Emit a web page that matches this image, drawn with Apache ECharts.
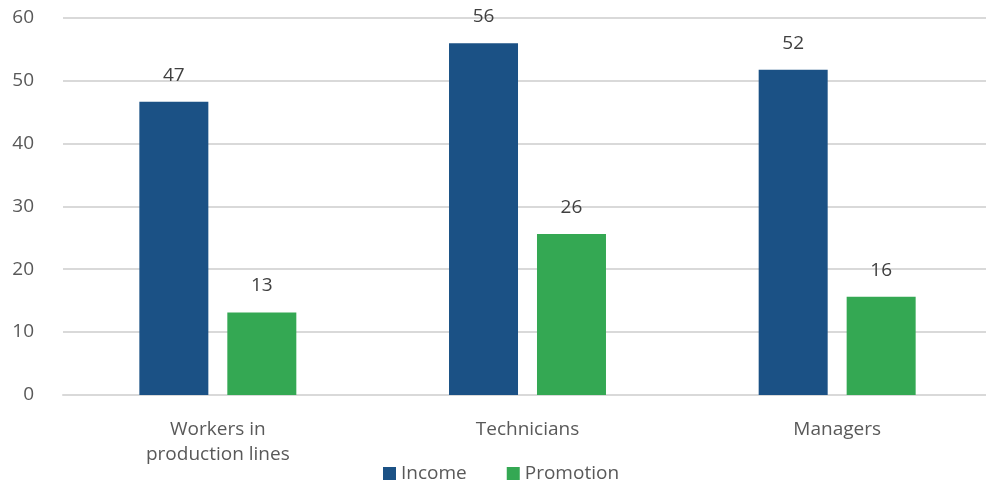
<!DOCTYPE html>
<html>
<head>
<meta charset="utf-8">
<script src="https://cdn.jsdelivr.net/npm/echarts@6/dist/echarts.min.js"></script>
<style>html,body{margin:0;padding:0;background:#fff;overflow:hidden}#c{width:992px;height:483px}</style>
</head>
<body>
<div id="c"></div>
<script>
const categories = ['Workers in\nproduction lines', 'Technicians', 'Managers'];
const income = [46.6, 55.9, 51.7];
const promotion = [13.1, 25.6, 15.6];
const yTicks = { min: 0, max: 60, interval: 10 };

const chart = echarts.init(document.getElementById('c'), null, { renderer: 'canvas' });
const font = '"Open Sans", sans-serif';
const labelCfg = {
  show: true, position: 'top', distance: 17,
  color: '#404040', fontSize: 19, fontFamily: font,
  formatter: p => Math.round(p.value)
};
chart.setOption({
  animation: false,
  textStyle: { fontFamily: font },
  grid: { left: 63, right: 0, top: 17.5, bottom: 88, containLabel: false },
  legend: {
    top: 459, left: 378, icon: 'rect', itemWidth: 13, itemHeight: 13, itemGap: 40,
    textStyle: { color: '#595959', fontSize: 19, fontFamily: font },
    data: ['Income', 'Promotion']
  },
  xAxis: {
    type: 'category', data: categories,
    axisLine: { show: true, lineStyle: { color: '#d9d9d9', width: 2 } },
    axisTick: { show: false },
    axisLabel: { color: '#595959', fontSize: 19, fontFamily: font, margin: 22, lineHeight: 25 }
  },
  yAxis: {
    type: 'value', min: yTicks.min, max: yTicks.max, interval: yTicks.interval,
    axisLine: { show: false }, axisTick: { show: false },
    splitLine: { lineStyle: { color: '#d9d9d9', width: 2 } },
    axisLabel: { color: '#595959', fontSize: 19, fontFamily: font, margin: 29 }
  },
  series: [
    { name: 'Income', type: 'bar', data: income, barWidth: 69, barGap: '27.5%',
      itemStyle: { color: '#1b5185' }, label: labelCfg },
    { name: 'Promotion', type: 'bar', data: promotion, barWidth: 69,
      itemStyle: { color: '#34a853' }, label: labelCfg }
  ]
});
</script>
</body>
</html>
